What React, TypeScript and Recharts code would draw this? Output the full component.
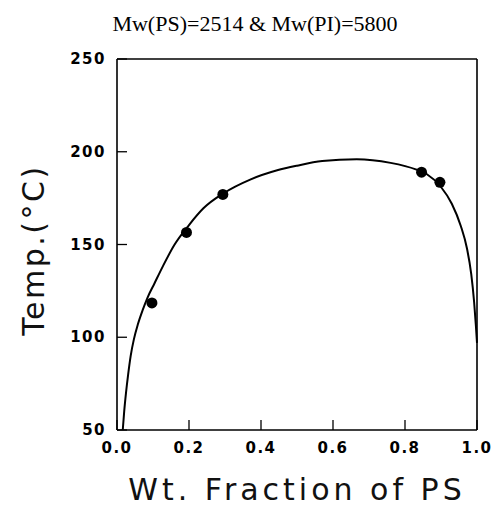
import React from 'react';
import { ComposedChart, Line, Scatter, XAxis, YAxis } from 'recharts';

// phase boundary (cloud point curve)
const curveX = [0.016, 0.02, 0.025, 0.031, 0.038, 0.047, 0.058, 0.071, 0.084, 0.104, 0.128, 0.16, 0.2, 0.24, 0.295, 0.37, 0.445, 0.5, 0.57, 0.666, 0.76, 0.83, 0.86, 0.9, 0.93, 0.955, 0.972, 0.984, 0.992, 0.997, 1.0];
const curveT = [50, 60, 70, 80, 90, 99, 107, 114.5, 121, 129, 138.5, 150, 160.5, 169.5, 177.5, 185, 190, 192.5, 195, 196, 194, 190.5, 188, 181, 172, 160, 148, 134, 119, 106, 97];

// measured points
const pointX = [0.097, 0.193, 0.294, 0.846, 0.897];
const pointT = [118.5, 156.5, 177, 189, 183.5];

const xTicks = [0, 0.2, 0.4, 0.6, 0.8, 1.0];
const yTicks = [50, 100, 150, 200, 250];

const curve = curveX.map((x, i) => ({ x, t: curveT[i] }));
const points = pointX.map((x, i) => ({ x, t: pointT[i] }));

const tickFont = { fontFamily: '"DejaVu Sans", sans-serif', fontSize: 15, fontWeight: 'bold' as const, letterSpacing: 1.5, fill: '#000' };
const labelFont = { fontFamily: '"DejaVu Sans", sans-serif', fontSize: 30, fill: '#111' };
const axisStroke = { stroke: '#000', strokeWidth: 1.6 };

const BottomTick = (props: any) => {
  const { x, y, payload } = props;
  return (
    <g>
      <line x1={x} y1={y} x2={x} y2={y - 10} stroke="#000" strokeWidth={1.3} />
      <text x={x} y={y + 23} textAnchor="middle" {...tickFont}>
        {Number(payload.value).toFixed(1)}
      </text>
    </g>
  );
};

const TopTick = (props: any) => {
  const { x, y } = props;
  return <line x1={x} y1={y} x2={x} y2={y + 10} stroke="#000" strokeWidth={1.3} />;
};

const LeftTick = (props: any) => {
  const { x, y, payload } = props;
  return (
    <g>
      <line x1={x} y1={y} x2={x + 10} y2={y} stroke="#000" strokeWidth={1.3} />
      <text x={x - 11} y={y} textAnchor="end" dominantBaseline="central" {...tickFont}>
        {payload.value}
      </text>
    </g>
  );
};

const RightTick = (props: any) => {
  const { x, y } = props;
  return <line x1={x} y1={y} x2={x - 10} y2={y} stroke="#000" strokeWidth={1.3} />;
};

const Dot = (props: any) => <circle cx={props.cx} cy={props.cy} r={5.5} fill="#000" />;

export default function App() {
  return (
    <div style={{ position: 'absolute', left: 0, top: 0, width: 496, height: 508, background: '#fff' }}>
      <svg width={496} height={508} style={{ position: 'absolute', left: 0, top: 0 }}>
        <text x={255} y={31} textAnchor="middle" fontFamily='"Liberation Serif", serif' fontSize={22} fill="#000">
          Mw(PS)=2514 &amp; Mw(PI)=5800
        </text>
        <text x={297} y={500} textAnchor="middle" letterSpacing={4} {...labelFont}>
          Wt. Fraction of PS
        </text>
        <text transform="translate(44,250) rotate(-90)" textAnchor="middle" letterSpacing={2.5} {...labelFont}>
          Temp.(°C)
        </text>
      </svg>
      <ComposedChart
        width={496}
        height={508}
        margin={{ top: 58, right: 18, left: 0, bottom: 0 }}
        style={{ position: 'absolute', left: 0, top: 0 }}
      >
        <XAxis
          xAxisId="b"
          dataKey="x"
          type="number"
          domain={[0, 1]}
          ticks={xTicks}
          interval={0}
          height={78}
          tickSize={0}
          tickMargin={0}
          tickLine={false}
          axisLine={axisStroke}
          tick={<BottomTick />}
        />
        <XAxis
          xAxisId="t"
          orientation="top"
          dataKey="x"
          type="number"
          domain={[0, 1]}
          ticks={xTicks.slice(1, -1)}
          interval={0}
          height={1}
          tickSize={0}
          tickMargin={0}
          tickLine={false}
          axisLine={axisStroke}
          tick={<TopTick />}
        />
        <YAxis
          yAxisId="l"
          dataKey="t"
          type="number"
          domain={[50, 250]}
          ticks={yTicks}
          interval={0}
          width={117}
          tickSize={0}
          tickMargin={0}
          tickLine={false}
          axisLine={axisStroke}
          tick={<LeftTick />}
        />
        <YAxis
          yAxisId="r"
          orientation="right"
          dataKey="t"
          type="number"
          domain={[50, 250]}
          ticks={yTicks.slice(1, -1)}
          interval={0}
          width={1}
          tickSize={0}
          tickMargin={0}
          tickLine={false}
          axisLine={axisStroke}
          tick={<RightTick />}
        />
        <Line
          xAxisId="b"
          yAxisId="l"
          data={curve}
          dataKey="t"
          type="monotone"
          stroke="#000"
          strokeWidth={2}
          dot={false}
          isAnimationActive={false}
        />
        <Scatter
          xAxisId="b"
          yAxisId="l"
          data={points}
          dataKey="t"
          shape={<Dot />}
          isAnimationActive={false}
        />
      </ComposedChart>
    </div>
  );
}
